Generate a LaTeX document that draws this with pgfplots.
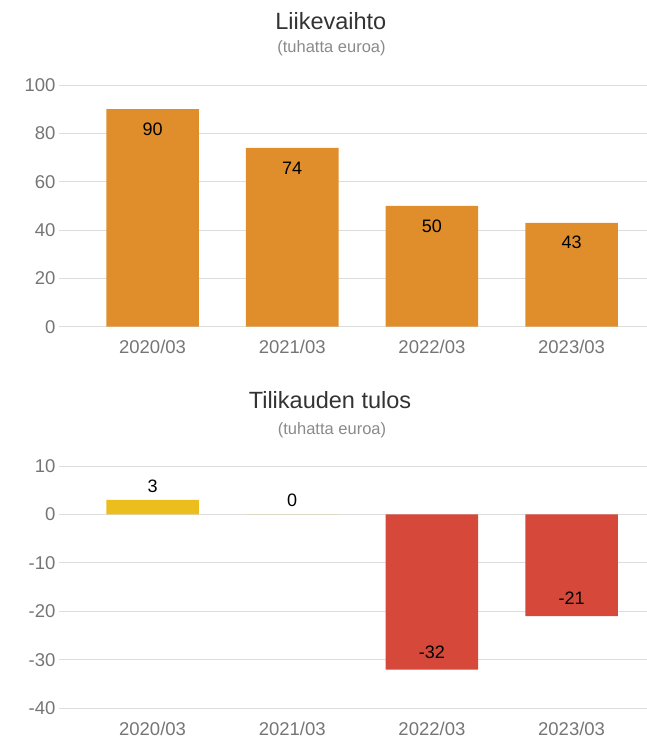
\documentclass[border=0pt]{standalone}
\usepackage{pgfplots}
\pgfplotsset{compat=1.18}
\usepackage{fontspec}
\setmainfont{Liberation Sans}
\definecolor{barorange}{HTML}{E08E2B}
\definecolor{baryellow}{HTML}{EBBE1E}
\definecolor{barred}{HTML}{D5483A}
\definecolor{gridgray}{HTML}{DDDDDD}
\definecolor{tickgray}{HTML}{757575}
\definecolor{titlegray}{HTML}{333333}
\definecolor{subgray}{HTML}{8A8A8A}
\tikzset{vlabel/.style={font=\fontsize{18}{20}\selectfont, text=black, anchor=center},
  ttl/.style={font=\fontsize{23.5}{28}\selectfont, text=titlegray, anchor=base, inner sep=0pt},
  sttl/.style={font=\fontsize{16.5}{20}\selectfont, text=subgray, anchor=base, inner sep=0pt}}
\pgfplotsset{
  mystyle/.style={
    scale only axis, width=588pt,
    xmin=-0.67, xmax=3.54,
    axis lines*=left, axis line style={draw=none},
    major tick length=0pt,
    ymajorgrids, grid style={gridgray, line width=1pt},
    xtick={0,1,2,3}, xticklabels={2020/03,2021/03,2022/03,2023/03},
    tick label style={font=\fontsize{18.5}{20}\selectfont, text=tickgray},
    xticklabel style={yshift=-10pt},
    clip=false,
  }
}
\begin{document}
\begin{tikzpicture}
\path[use as bounding box] (0pt,0pt) rectangle (647pt,-739pt);
\node[ttl] at (330.8pt,-29.3pt) {Liikevaihto};
\node[sttl] at (331.5pt,-52.5pt) {(tuhatta euroa)};
\begin{axis}[mystyle, at={(59pt,-326.7pt)}, anchor=south west, height=241.7pt,
  ymin=0, ymax=100, ytick={0,20,40,60,80,100}, yticklabels={0,20,40,60,80,100}]
\addplot[ybar, bar width=92.6pt, fill=barorange, draw=none,
  point meta=explicit symbolic, nodes near coords,
  every node near coord/.append style={vlabel, yshift=-20pt}]
  coordinates {(0,90)[90] (1,74)[74] (2,50)[50] (3,43)[43]};
\end{axis}
\node[ttl] at (330pt,-408.3pt) {Tilikauden tulos};
\node[sttl] at (332pt,-434.8pt) {(tuhatta euroa)};
\begin{axis}[mystyle, at={(59pt,-708.3pt)}, anchor=south west, height=242.3pt,
  ymin=-40, ymax=10, ytick={-40,-30,-20,-10,0,10}, yticklabels={-40,-30,-20,-10,0,10}]
\addplot[ybar, bar width=92.6pt, fill=baryellow, draw=none,
  point meta=explicit symbolic, nodes near coords,
  every node near coord/.append style={vlabel, yshift=14pt}]
  coordinates {(0,3)[3] (1,0)[0]};
\addplot[ybar, bar width=92.6pt, fill=barred, draw=none,
  point meta=explicit symbolic, nodes near coords,
  every node near coord/.append style={vlabel, yshift=17.7pt}]
  coordinates {(2,-32)[-32] (3,-21)[-21]};
\end{axis}
\end{tikzpicture}
\end{document}
